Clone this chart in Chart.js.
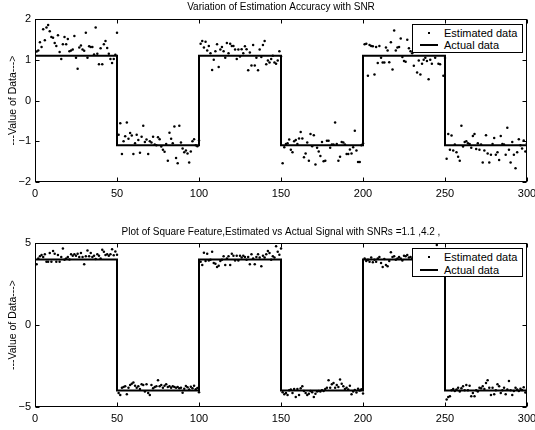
<!DOCTYPE html>
<html lang="en">
<head>
<meta charset="UTF-8">
<title>Estimation Accuracy with SNR</title>
<script src="https://cdn.jsdelivr.net/npm/chart.js"></script>
<style>
body { margin: 0; background: #fff; }
#wrap { position: relative; width: 535px; height: 430px; }
canvas { position: absolute; left: 0; }
.legend {
    position: absolute; left: 412px; width: 109px; height: 27px;
    border: 1px solid #000; background: #fff;
    font: 11px "Liberation Sans", Arial, sans-serif; color: #000;
}
.legend .row { position: absolute; left: 0; right: 0; height: 13px; line-height: 13px; }
.legend .txt { position: absolute; left: 31px; white-space: nowrap; }
.legend .dot { position: absolute; left: 15px; top: 5px; width: 2px; height: 2px; background: #000; }
.legend .line { position: absolute; left: 7px; top: 5px; width: 18px; height: 2px; background: #000; }
</style>
</head>
<body>
<div id="wrap">
    <canvas id="chartA" width="535" height="202" style="top:0"></canvas>
    <canvas id="chartB" width="535" height="212" style="top:215px"></canvas>
    <div class="legend" style="top:24px">
        <div class="row" style="top:2px"><span class="dot"></span><span class="txt">Estimated data</span></div>
        <div class="row" style="top:14px"><span class="line"></span><span class="txt">Actual data</span></div>
    </div>
    <div class="legend" style="top:248px">
        <div class="row" style="top:2px"><span class="dot"></span><span class="txt">Estimated data</span></div>
        <div class="row" style="top:15px"><span class="line"></span><span class="txt">Actual data</span></div>
    </div>
</div>
<script>
// sample index runs 1..300, square wave switches every 50 samples
const edges = [0, 50, 100, 150, 200, 250, 300];
const xTicks = [0, 50, 100, 150, 200, 250, 300];

// upper plot: SNR 1.1
const titleA = 'Variation of Estimation Accuracy with SNR';
const actualA = [1.1, -1.1, 1.1, -1.1, 1.1, -1.1, 1.1];
const yTicksA = [-2, -1, 0, 1, 2];
const estimatedA = [
    // 1-50
    1.20, 1.23, 1.43, 1.31, 1.75, 1.48, 1.79, 1.85, 1.70, 1.56, 1.54, 1.41, 1.34, 1.60, 1.19, 1.02, 1.38, 1.56, 1.38, 1.51,
    1.21, 1.23, 1.25, 1.58, 1.05, 0.78, 1.30, 1.35, 1.25, 1.22, 1.66, 1.05, 1.33, 1.31, 1.31, 1.13, 1.79, 1.15, 0.89, 1.28,
    0.89, 1.38, 1.46, 1.29, 1.15, 1.02, 0.92, 1.02, 1.12, 1.66,
    // 51-100
    -0.84, -0.56, -1.31, -1.00, -0.88, -0.54, -0.94, -0.80, -0.86, -1.31, -1.05, -0.84, -0.97, -1.28, -0.89, -0.62, -1.02, -0.96, -1.31, -1.00,
    -1.03, -0.89, -1.08, -1.10, -0.90, -0.95, -1.13, -1.21, -1.26, -1.07, -1.48, -0.79, -0.94, -1.05, -0.64, -1.41, -1.54, -0.62, -1.03, -1.18,
    -1.27, -1.23, -1.30, -1.52, -1.25, -1.00, -0.95, -1.10, -1.12, -0.98,
    // 101-150
    1.39, 1.46, 1.30, 1.44, 1.23, 1.34, 1.16, 0.75, 1.00, 1.21, 1.38, 0.82, 1.25, 1.31, 1.21, 1.05, 1.41, 1.16, 1.39, 1.34,
    1.34, 1.25, 1.02, 1.25, 1.08, 1.26, 1.16, 1.33, 1.26, 0.74, 1.18, 0.86, 1.36, 0.86, 1.05, 0.74, 1.25, 1.07, 1.36, 1.46,
    0.89, 0.98, 0.93, 1.02, 1.10, 0.93, 0.90, 0.98, 1.21, 1.08,
    // 151-200
    -1.54, -1.15, -1.07, -1.05, -0.96, -1.21, -1.27, -1.00, -0.97, -1.07, -0.93, -0.77, -0.93, -1.39, -1.30, -1.03, -1.48, -0.82, -1.12, -0.85,
    -1.57, -1.16, -1.25, -1.36, -1.02, -1.49, -1.48, -0.99, -0.99, -1.16, -1.08, -1.08, -0.54, -1.07, -1.48, -1.38, -1.02, -1.03, -1.08, -1.31,
    -1.31, -1.20, -1.30, -1.15, -0.74, -1.23, -1.51, -1.51, -1.10, -1.05,
    // 201-250
    1.38, 1.39, 0.61, 1.36, 1.34, 1.33, 0.64, 1.31, 0.92, 1.34, 1.05, 0.93, 0.93, 1.30, 1.23, 0.94, 1.43, 0.76, 1.72, 1.23,
    1.30, 1.31, 1.52, 1.07, 0.97, 0.95, 1.49, 1.28, 1.21, 1.16, 0.85, 1.70, 0.69, 0.98, 0.64, 0.90, 1.00, 1.05, 0.97, 0.52,
    1.00, 0.90, 1.45, 1.05, 1.20, 0.90, 0.89, 1.25, 0.61, 1.04,
    // 251-300
    -1.43, -0.82, -1.21, -0.86, -1.23, -1.08, -1.27, -1.38, -1.48, -0.62, -1.13, -1.02, -1.00, -1.05, -1.07, -1.16, -0.87, -0.82, -1.19, -1.05,
    -1.21, -1.08, -1.52, -1.23, -0.85, -1.30, -1.52, -1.33, -1.07, -0.92, -1.33, -1.27, -1.46, -0.87, -1.07, -1.08, -1.33, -0.67, -1.21, -1.52,
    -1.02, -1.33, -1.66, -1.27, -0.95, -1.10, -1.18, -0.98, -1.25, -1.05
];

// lower plot: SNR 4.2
const titleB = 'Plot of Square Feature,Estimated vs Actual Signal with SNRs =1.1 ,4.2 ,';
const actualB = [4, -4, 4, -4, 4, -4, 4];
const yTicksB = [-5, 0, 5];
const estimatedB = [
    // 1-50
    3.70, 4.06, 4.19, 4.27, 4.15, 4.31, 3.86, 3.86, 4.39, 3.86, 4.51, 4.35, 3.86, 4.27, 3.86, 4.15, 4.67, 3.98, 4.06, 4.15,
    4.00, 4.31, 4.23, 4.31, 4.23, 4.35, 4.15, 4.39, 4.15, 3.70, 4.19, 4.55, 4.19, 4.39, 4.15, 4.23, 4.02, 4.31, 4.23, 4.06,
    4.59, 4.47, 4.27, 4.31, 4.23, 4.31, 4.62, 4.25, 4.48, 4.28,
    // 51-100
    -4.15, -4.27, -3.82, -3.78, -3.74, -4.22, -3.82, -3.66, -3.58, -3.50, -3.70, -3.82, -3.74, -3.90, -3.62, -3.66, -4.06, -3.62, -4.15, -4.27,
    -3.66, -3.86, -3.78, -3.74, -3.37, -3.74, -3.66, -3.82, -3.70, -3.62, -3.78, -3.74, -3.82, -3.74, -3.78, -3.82, -3.78, -3.86, -3.82, -4.13,
    -3.88, -3.72, -3.80, -3.94, -3.76, -3.85, -3.70, -3.92, -3.84, -4.10,
    // 101-150
    3.86, 3.66, 4.41, 3.90, 4.35, 3.94, 3.98, 4.47, 3.78, 3.74, 3.54, 3.62, 3.90, 3.98, 4.19, 3.66, 4.06, 4.19, 3.66, 4.35,
    4.23, 3.94, 4.23, 3.94, 4.23, 4.11, 4.23, 4.15, 3.98, 4.15, 3.70, 4.31, 4.06, 3.70, 4.15, 4.31, 4.11, 3.58, 4.23, 4.11,
    4.31, 4.51, 4.39, 3.98, 4.19, 4.11, 4.80, 4.47, 4.28, 4.66,
    // 151-200
    -4.10, -4.23, -4.15, -4.27, -3.98, -3.94, -4.15, -3.90, -4.39, -3.90, -4.27, -3.86, -3.74, -4.02, -4.15, -4.27, -4.19, -4.02, -4.10, -4.39,
    -4.19, -4.06, -4.02, -4.06, -3.98, -4.02, -3.90, -3.82, -3.37, -3.82, -3.62, -3.54, -3.82, -3.66, -3.78, -3.33, -3.58, -3.74, -3.90, -3.82,
    -3.94, -3.70, -4.23, -4.05, -3.96, -4.12, -3.88, -4.00, -3.92, -4.18,
    // 201-250
    4.06, 3.90, 3.98, 3.86, 4.11, 3.82, 3.98, 3.86, 4.06, 4.15, 3.78, 3.54, 4.02, 3.66, 3.58, 3.90, 4.43, 4.15, 4.19, 3.98,
    4.06, 4.15, 4.06, 3.94, 4.23, 4.19, 4.27, 4.11, 4.15, 4.05, 4.22, 3.96, 4.12, 4.30, 4.08, 4.18, 3.92, 4.25, 4.10, 4.02,
    4.28, 4.15, 3.95, 4.20, 4.88, 4.12, 4.05, 4.30, 4.18, 4.08,
    // 251-300
    -4.55, -4.39, -4.35, -3.98, -3.90, -4.02, -3.94, -3.82, -4.06, -3.86, -3.74, -3.98, -3.66, -3.98, -3.70, -4.35, -4.15, -4.35, -3.98, -4.06,
    -3.82, -3.86, -3.74, -3.90, -3.54, -3.37, -3.82, -4.27, -3.82, -4.23, -3.98, -3.62, -3.74, -4.15, -3.98, -3.82, -4.23, -3.94, -3.41, -3.98,
    -4.27, -4.02, -3.82, -3.94, -4.02, -3.88, -3.96, -3.80, -4.12, -3.90
];

const FONT = '"Liberation Sans", Arial, Helvetica, sans-serif';

// turn level-per-segment into the corner points of the square wave
function squareWave(levels) {
    const pts = [];
    for (let i = 0; i < edges.length - 1; i++) {
        pts.push({x: edges[i], y: levels[i]});
        pts.push({x: edges[i + 1], y: levels[i]});
    }
    pts.push({x: edges[edges.length - 1], y: levels[levels.length - 1]});
    return pts;
}

// box around the axes with matlab-style inward tick marks
const framePlugin = {
    id: 'frame',
    afterDatasetsDraw(chart) {
        const {ctx, chartArea: a, scales: {x, y}} = chart;
        const L = Math.round(a.left) + 0.5, R = Math.round(a.right) - 0.5;
        const T = Math.round(a.top) + 0.5, B = Math.round(a.bottom) - 0.5;
        const len = 4;
        ctx.save();
        ctx.strokeStyle = '#000';
        ctx.lineWidth = 1;
        ctx.strokeRect(L, T, R - L, B - T);
        ctx.beginPath();
        x.ticks.forEach(t => {
            const px = Math.round(x.getPixelForValue(t.value)) + 0.5;
            ctx.moveTo(px, B); ctx.lineTo(px, B - len);
            ctx.moveTo(px, T); ctx.lineTo(px, T + len);
        });
        y.ticks.forEach(t => {
            const py = Math.round(y.getPixelForValue(t.value)) + 0.5;
            ctx.moveTo(L, py); ctx.lineTo(L + len, py);
            ctx.moveTo(R, py); ctx.lineTo(R - len, py);
        });
        ctx.stroke();
        ctx.restore();
    }
};

function makeChart(id, title, estimated, levels, yTicks, titlePad) {
    const ctx = document.getElementById(id).getContext('2d');
    return new Chart(ctx, {
        type: 'scatter',
        data: {
            datasets: [{
                label: 'Actual data',
                data: squareWave(levels),
                showLine: true,
                borderColor: '#000',
                borderWidth: 2,
                pointRadius: 0,
                order: 0
            }, {
                label: 'Estimated data',
                data: estimated.map((v, i) => ({x: i + 1, y: v})),
                backgroundColor: '#000',
                borderWidth: 0,
                pointRadius: 1.25,
                order: 1
            }]
        },
        options: {
            responsive: false,
            animation: false,
            devicePixelRatio: 1,
            layout: {padding: {left: 0, right: 8, top: 0, bottom: 0}},
            plugins: {
                legend: {display: false},
                tooltip: {enabled: false},
                title: {
                    display: true,
                    text: title,
                    fullSize: false,
                    color: '#000',
                    font: {family: FONT, size: 10, weight: 'normal'},
                    padding: titlePad
                }
            },
            scales: {
                x: {
                    type: 'linear',
                    min: xTicks[0],
                    max: xTicks[xTicks.length - 1],
                    afterBuildTicks: s => { s.ticks = xTicks.map(v => ({value: v})); },
                    grid: {display: false, drawTicks: false},
                    border: {display: false},
                    ticks: {color: '#000', font: {family: FONT, size: 11}, padding: 5, maxRotation: 0},
                    afterFit: s => { s.height = 20; s.paddingLeft = 0; s.paddingRight = 0; }
                },
                y: {
                    min: yTicks[0],
                    max: yTicks[yTicks.length - 1],
                    afterBuildTicks: s => { s.ticks = yTicks.map(v => ({value: v})); },
                    grid: {display: false, drawTicks: false},
                    border: {display: false},
                    ticks: {
                        color: '#000',
                        font: {family: FONT, size: 11},
                        padding: 4,
                        callback: v => String(v).replace('-', '\u2212')
                    },
                    title: {
                        display: true,
                        text: '---Value of Data--->',
                        color: '#000',
                        font: {family: FONT, size: 10.5},
                        padding: {top: 7, bottom: 0}
                    },
                    afterFit: s => { s.width = 35; s.paddingTop = 0; s.paddingBottom = 0; }
                }
            }
        },
        plugins: [framePlugin]
    });
}

makeChart('chartA', titleA, estimatedA, actualA, yTicksA, {top: 1, bottom: 6});
makeChart('chartB', titleB, estimatedB, actualB, yTicksB, {top: 11, bottom: 5});
</script>
</body>
</html>
